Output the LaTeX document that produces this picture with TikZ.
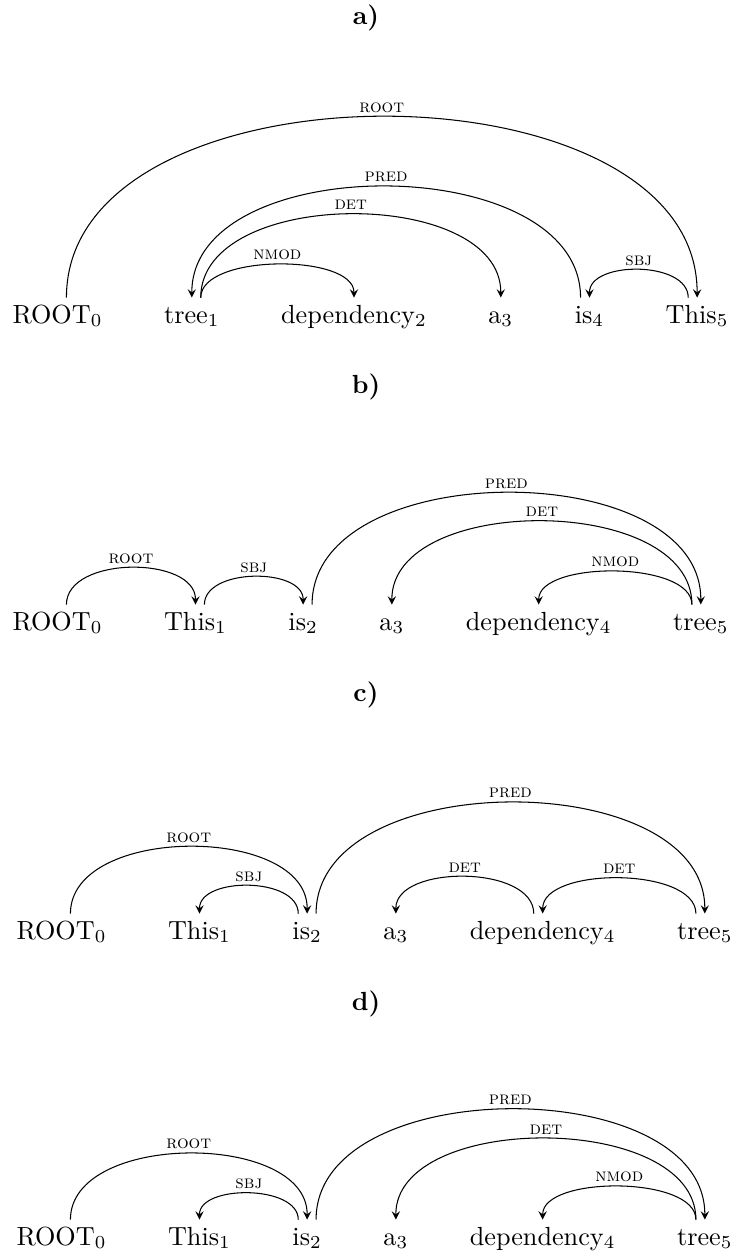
\documentclass[tikz,border=0pt]{standalone}
\usetikzlibrary{positioning}

\tikzset{
  word/.style={inner xsep=0pt,inner ysep=2.6pt,text height=6.9pt,text depth=2pt},
  dep/.style={to path={.. controls +(0,#1) and +(0,#1) .. (\tikztotarget) \tikztonodes}},
  rel/.style={above,inner sep=1.5pt,font=\scriptsize},
  title/.style={font=\bfseries,anchor=base}
}

\begin{document}
\begin{tikzpicture}[x=0.3817pt,y=0.3817pt,->,>=stealth,node distance=23.1pt]
    \useasboundingbox (0,0) rectangle (733,-1254);

    % a)
    \node[title] (ta) at (366,-25) {a)};
    \node[word,anchor=base west] (a0) at (12,-323) {ROOT$_0$};
    \node[word] (a1) [base right=of a0] {tree$_1$};
    \node[word] (a2) [base right=of a1] {dependency$_2$};
    \node[word] (a3) [base right=of a2] {a$_3$};
    \node[word] (a4) [base right=of a3] {is$_4$};
    \node[word] (a5) [base right=of a4] {This$_5$};

    \path ([xshift=3.4pt]a0.north) edge[dep=241] node[rel] {\textsc{root}} (a5.north);
    \path ([xshift=-3.4pt]a4.north) edge[dep=148] node[rel] {\textsc{pred}} (a1.north);
    \path ([xshift=3.4pt]a1.north) edge[dep=111] node[rel] {\textsc{det}} (a3.north)
                                   edge[dep=44] node[rel] {\textsc{nmod}} (a2.north);
    \path ([xshift=-3.4pt]a5.north) edge[dep=37] node[rel] {\textsc{sbj}} (a4.north);

    % b)
    \node[title] (tb) at (366,-393) {b)};
    \node[word,anchor=base west] (b0) at (12,-630) {ROOT$_0$};
    \node[word] (b1) [base right=of b0] {This$_1$};
    \node[word] (b2) [base right=of b1] {is$_2$};
    \node[word] (b3) [base right=of b2] {a$_3$};
    \node[word] (b4) [base right=of b3] {dependency$_4$};
    \node[word] (b5) [base right=of b4] {tree$_5$};

    \path ([xshift=3.4pt]b0.north) edge[dep=49] node[rel] {\textsc{root}} (b1.north);
    \path ([xshift=3.4pt]b1.north) edge[dep=37] node[rel] {\textsc{sbj}} (b2.north);
    \path ([xshift=3.4pt]b2.north) edge[dep=149] node[rel] {\textsc{pred}} (b5.north);
    \path ([xshift=-3.4pt]b5.north) edge[dep=111] node[rel] {\textsc{det}} (b3.north)
                                    edge[dep=44] node[rel] {\textsc{nmod}} (b4.north);

    % c)
    \node[title] (tc) at (366,-701) {c)};
    \node[word,anchor=base west] (c0) at (16,-939) {ROOT$_0$};
    \node[word] (c1) [base right=of c0] {This$_1$};
    \node[word] (c2) [base right=of c1] {is$_2$};
    \node[word] (c3) [base right=of c2] {a$_3$};
    \node[word] (c4) [base right=of c3] {dependency$_4$};
    \node[word] (c5) [base right=of c4] {tree$_5$};

    \path ([xshift=3.4pt]c0.north) edge[dep=89] node[rel] {\textsc{root}} (c2.north);
    \path ([xshift=-3.4pt]c2.north) edge[dep=37] node[rel] {\textsc{sbj}} (c1.north);
    \path ([xshift=3.4pt]c2.north) edge[dep=148] node[rel] {\textsc{pred}} (c5.north);
    \path ([xshift=-3.4pt]c4.north) edge[dep=49] node[rel] {\textsc{det}} (c3.north);
    \path ([xshift=-3.4pt]c5.north) edge[dep=47] node[rel] {\textsc{det}} (c4.north);

    % d)
    \node[title] (td) at (366,-1010) {d)};
    \node[word,anchor=base west] (d0) at (16,-1245) {ROOT$_0$};
    \node[word] (d1) [base right=of d0] {This$_1$};
    \node[word] (d2) [base right=of d1] {is$_2$};
    \node[word] (d3) [base right=of d2] {a$_3$};
    \node[word] (d4) [base right=of d3] {dependency$_4$};
    \node[word] (d5) [base right=of d4] {tree$_5$};

    \path ([xshift=3.4pt]d0.north) edge[dep=88] node[rel] {\textsc{root}} (d2.north);
    \path ([xshift=-3.4pt]d2.north) edge[dep=35] node[rel] {\textsc{sbj}} (d1.north);
    \path ([xshift=3.4pt]d2.north) edge[dep=147] node[rel] {\textsc{pred}} (d5.north);
    \path ([xshift=-3.4pt]d5.north) edge[dep=108] node[rel] {\textsc{det}} (d3.north)
                                    edge[dep=44] node[rel] {\textsc{nmod}} (d4.north);
\end{tikzpicture}
\end{document}
